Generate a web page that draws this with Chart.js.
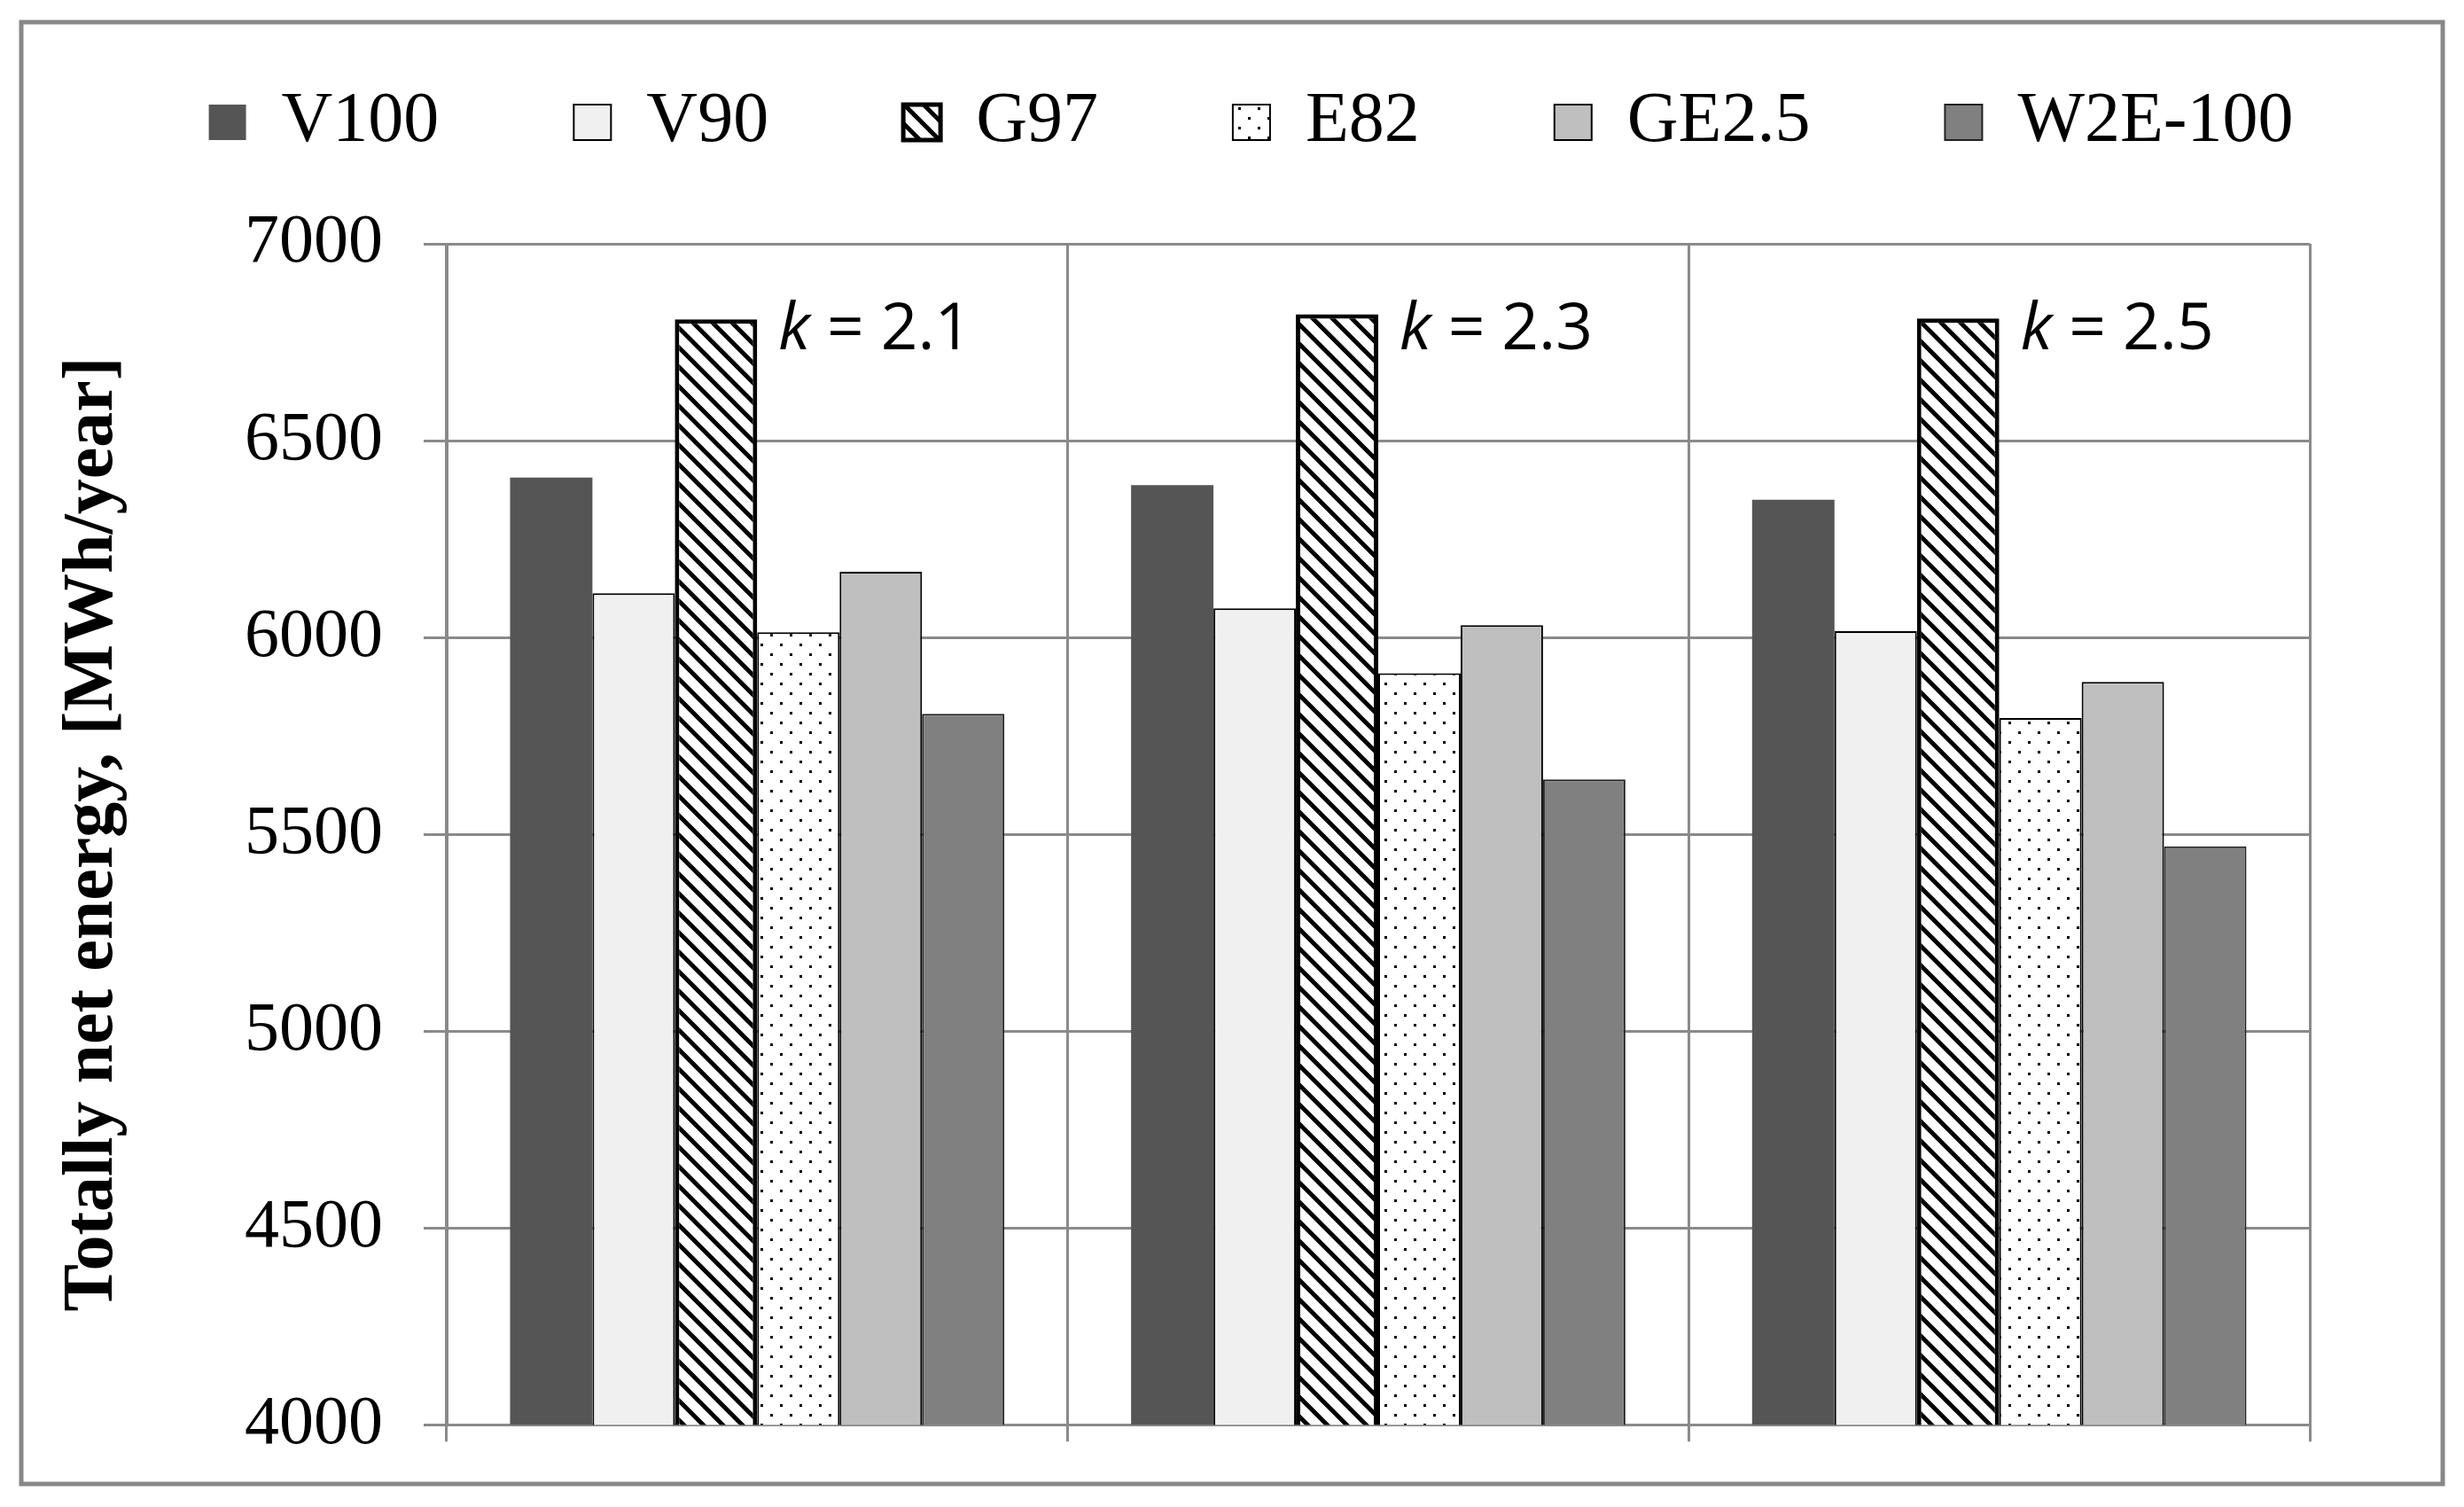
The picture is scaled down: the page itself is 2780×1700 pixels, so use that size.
<!DOCTYPE html>
<html>
<head>
<meta charset="utf-8">
<script src="https://cdn.jsdelivr.net/npm/chart.js@4.4.1/dist/chart.umd.min.js"></script>
<style>
  html, body { margin: 0; padding: 0; background: #ffffff; }
  canvas { display: block; }
</style>
</head>
<body>
<canvas id="chart" width="2780" height="1700"></canvas>
<script>
// ---------------- data ----------------
const categories = ['2.1', '2.3', '2.5'];          // k values (Weibull shape)
const seriesNames = ['V100', 'V90', 'G97', 'E82', 'GE2.5', 'W2E-100'];
const v100   = [6406, 6387, 6350];
const v90    = [6112, 6074, 6016];
const g97    = [6808, 6821, 6810];
const e82    = [6013, 5909, 5795];
const ge25   = [6167, 6031, 5887];
const w2e100 = [5806, 5639, 5469];
const yTicks = [4000, 4500, 5000, 5500, 6000, 6500, 7000];
const yTitle = 'Totally net energy, [MWh/year]';

// ---------------- fill patterns ----------------
function makeHatch() {
  const c = document.createElement('canvas');
  c.width = 22; c.height = 22;
  const x = c.getContext('2d');
  x.fillStyle = '#ffffff';
  x.fillRect(0, 0, 22, 22);
  x.strokeStyle = '#000000';
  x.lineWidth = 5;
  x.beginPath();
  for (let o = -22; o <= 22; o += 22) {
    x.moveTo(o - 3, -3);
    x.lineTo(o + 25, 25);
  }
  x.stroke();
  return x.createPattern(c, 'repeat');
}
function makeDots() {
  const c = document.createElement('canvas');
  c.width = 22; c.height = 22;
  const x = c.getContext('2d');
  x.fillStyle = '#ffffff';
  x.fillRect(0, 0, 22, 22);
  x.fillStyle = '#000000';
  x.fillRect(0, 0, 3, 3);
  x.fillRect(11, 11, 3, 3);
  return x.createPattern(c, 'repeat');
}
const hatch = makeHatch();
const dots = makeDots();

const serifFont = '"Liberation Serif", "Times New Roman", serif';

// ---------------- plugins ----------------
const framePlugin = {
  id: 'frame',
  beforeDraw(chart) {
    const ctx = chart.ctx;
    ctx.save();
    ctx.fillStyle = '#ffffff';
    ctx.fillRect(0, 0, chart.width, chart.height);
    ctx.strokeStyle = '#888888';
    ctx.lineWidth = 5;
    ctx.strokeRect(24, 25, chart.width - 48, chart.height - 51);
    ctx.restore();
  }
};

const kLabelPlugin = {
  id: 'kLabels',
  afterDatasetsDraw(chart) {
    const meta = chart.getDatasetMeta(2);
    const ctx = chart.ctx;
    const base = Math.min(...meta.data.map(b => b.y)) + 40;
    meta.data.forEach((bar, i) => {
      let x = bar.x + bar.width / 2 + 24;
      ctx.save();
      ctx.fillStyle = '#000000';
      ctx.textAlign = 'left';
      ctx.textBaseline = 'alphabetic';
      ctx.font = 'italic 73px "Open Sans", "Noto Sans", sans-serif';
      ctx.fillText('k', x, base);
      x += ctx.measureText('k').width;
      ctx.font = '73px "Open Sans", "Noto Sans", sans-serif';
      ctx.fillText(' = ' + categories[i], x, base);
      ctx.restore();
    });
  }
};

// ---------------- chart ----------------
const seriesValues = [v100, v90, g97, e82, ge25, w2e100];
const fills   = ['#555555', '#f0f0f0', hatch, dots, '#bfbfbf', '#808080'];
const borders = ['#555555', '#000000', '#000000', '#000000', '#000000', '#222222'];
const bWidths = [0, 2, 5, 2, 2, 2];

const datasets = seriesNames.map((name, i) => ({
  label: name,
  data: seriesValues[i],
  backgroundColor: fills[i],
  borderColor: borders[i],
  borderWidth: bWidths[i],
  borderSkipped: i === 2 ? false : 'start',
  categoryPercentage: 0.796,
  barPercentage: 1.0
}));

Chart.defaults.color = '#000000';

new Chart(document.getElementById('chart'), {
  type: 'bar',
  data: { labels: categories, datasets },
  options: {
    responsive: false,
    animation: false,
    devicePixelRatio: 1,
    layout: { padding: { left: 43, right: 0, top: -54, bottom: 62 } },
    plugins: {
      legend: {
        display: true,
        position: 'top',
        align: 'center',
        labels: {
          font: { family: serifFont, size: 80 },
          color: '#000000',
          boxWidth: 42,
          boxHeight: 40,
          padding: 152
        }
      },
      subtitle: {
        display: true,
        text: '',
        weight: 100,
        position: 'top',
        font: { size: 2, lineHeight: 1 },
        padding: { top: 0, bottom: 85 }
      },
      tooltip: { enabled: false }
    },
    scales: {
      x: {
        type: 'category',
        offset: true,
        grid: { display: true, offset: true, color: '#8a8a8a', lineWidth: 3, drawTicks: true, tickLength: 19 },
        border: { display: true, color: '#8a8a8a', width: 3 },
        ticks: { display: false },
        afterFit(scale) { scale.height = 19; }
      },
      y: {
        type: 'linear',
        position: 'left',
        min: 4000,
        max: 7000,
        grid: { display: true, color: '#8a8a8a', lineWidth: 3, drawTicks: true, tickLength: 26 },
        border: { display: true, color: '#8a8a8a', width: 3 },
        ticks: {
          font: { family: serifFont, size: 78 },
          color: '#000000',
          padding: 46,
          callback: v => String(v)
        },
        afterBuildTicks(scale) { scale.ticks = yTicks.map(v => ({ value: v })); },
        title: {
          display: true,
          text: yTitle,
          font: { family: serifFont, size: 80, weight: 'bold', lineHeight: 1.2 },
          color: '#000000',
          padding: { top: 14, bottom: 0 }
        },
        afterFit(scale) { scale.width = 461; }
      },
      y2: {
        type: 'linear',
        position: 'right',
        display: true,
        grid: { display: false, drawTicks: false },
        border: { display: false },
        ticks: { display: false },
        afterFit(scale) { scale.width = 174; }
      }
    }
  },
  plugins: [framePlugin, kLabelPlugin]
});
</script>
</body>
</html>
